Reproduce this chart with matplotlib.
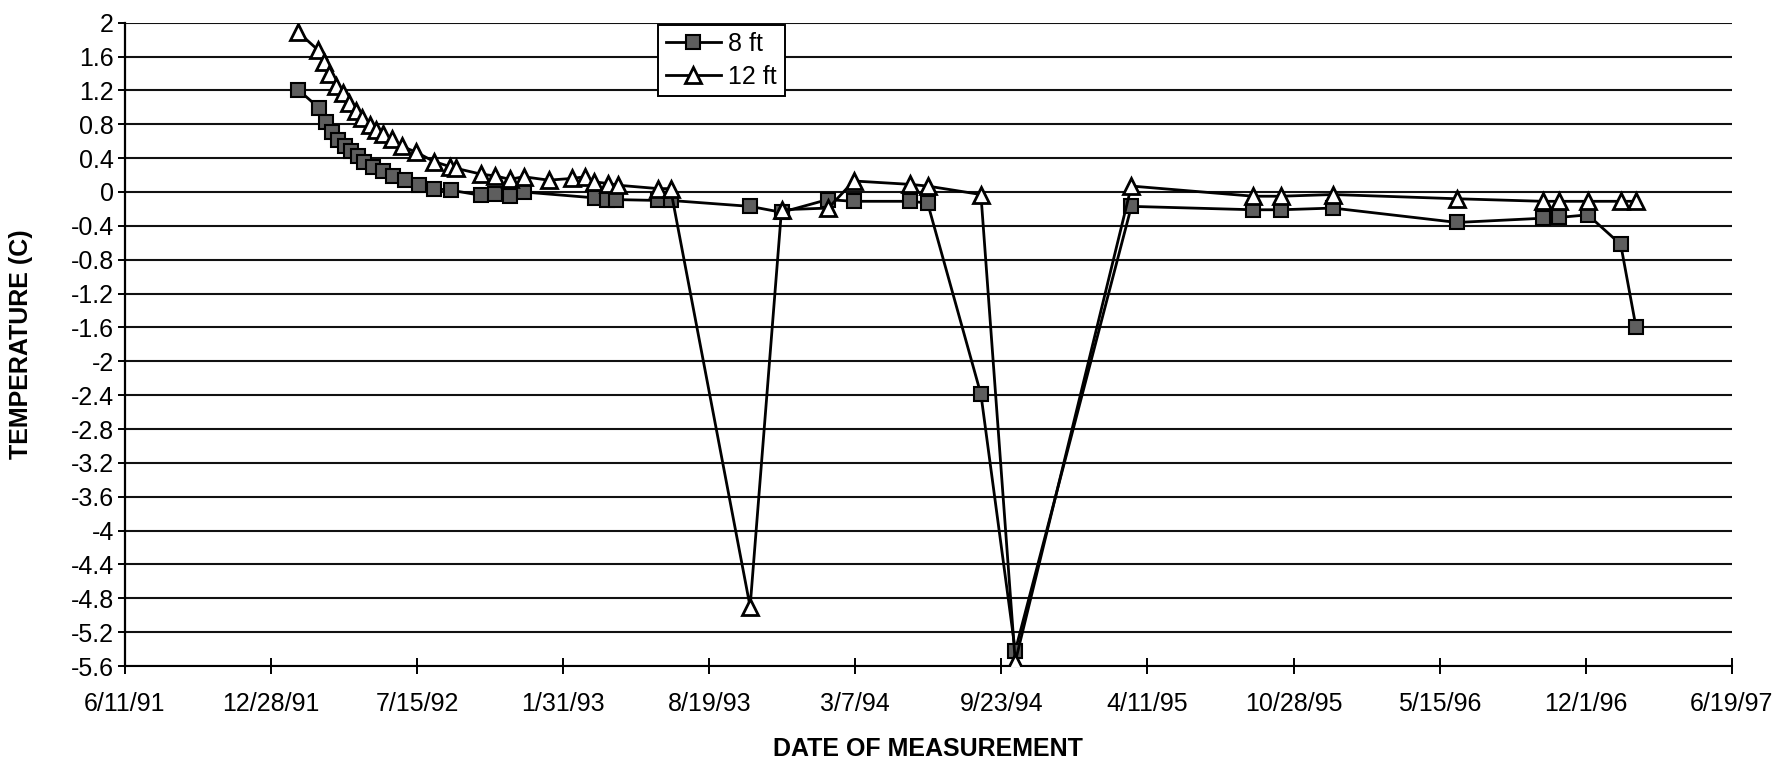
import matplotlib
matplotlib.use("Agg")
import matplotlib.pyplot as plt
import pandas as pd

plt.rcParams["font.family"] = ["Liberation Sans", "DejaVu Sans"]

# Soil temperature readings at two depths
series_labels = ["8 ft", "12 ft"]

dates_8ft = [
    "1992-02-03", "1992-03-03", "1992-03-12", "1992-03-20", "1992-03-29",
    "1992-04-07", "1992-04-16", "1992-04-25", "1992-05-04", "1992-05-16",
    "1992-05-29", "1992-06-12", "1992-06-28", "1992-07-17", "1992-08-07",
    "1992-08-31", "1992-10-11", "1992-10-30", "1992-11-19", "1992-12-08",
    "1993-03-16", "1993-04-01", "1993-04-14", "1993-06-10", "1993-06-27",
    "1993-10-14", "1993-11-26", "1994-01-28", "1994-03-05", "1994-05-21",
    "1994-06-14", "1994-08-26", "1994-10-12", "1995-03-20", "1995-09-03",
    "1995-10-11", "1995-12-21", "1996-06-08", "1996-10-03", "1996-10-26",
    "1996-12-04", "1997-01-18", "1997-02-08",
]
temp_8ft = [
    1.21, 0.99, 0.83, 0.71, 0.61,
    0.54, 0.48, 0.42, 0.36, 0.30,
    0.25, 0.19, 0.14, 0.08, 0.04,
    0.02, -0.04, -0.02, -0.05, 0.00,
    -0.07, -0.09, -0.09, -0.10, -0.10,
    -0.17, -0.24, -0.09, -0.11, -0.11,
    -0.13, -2.39, -5.42, -0.17, -0.21,
    -0.21, -0.19, -0.36, -0.31, -0.30,
    -0.27, -0.62, -1.60,
]

dates_12ft = [
    "1992-02-03", "1992-03-01", "1992-03-09", "1992-03-17", "1992-03-26",
    "1992-04-04", "1992-04-13", "1992-04-22", "1992-05-01", "1992-05-11",
    "1992-05-20", "1992-05-29", "1992-06-10", "1992-06-24", "1992-07-14",
    "1992-08-07", "1992-08-29", "1992-09-06", "1992-10-11", "1992-10-30",
    "1992-11-19", "1992-12-08", "1993-01-11", "1993-02-12", "1993-03-02",
    "1993-03-14", "1993-04-03", "1993-04-16", "1993-06-10", "1993-06-27",
    "1993-10-14", "1993-11-26", "1994-01-29", "1994-03-05", "1994-05-21",
    "1994-06-14", "1994-08-26", "1994-10-12", "1995-03-20", "1995-09-03",
    "1995-10-11", "1995-12-21", "1996-06-08", "1996-10-03", "1996-10-26",
    "1996-12-04", "1997-01-18", "1997-02-08",
]
temp_12ft = [
    1.89, 1.68, 1.53, 1.39, 1.25,
    1.17, 1.05, 0.96, 0.87, 0.79,
    0.73, 0.69, 0.63, 0.54, 0.47,
    0.36, 0.30, 0.28, 0.21, 0.19,
    0.15, 0.18, 0.14, 0.16, 0.18,
    0.12, 0.10, 0.08, 0.04, 0.04,
    -4.90, -0.21, -0.19, 0.13, 0.09,
    0.07, -0.03, -5.55, 0.07, -0.05,
    -0.05, -0.03, -0.08, -0.11, -0.11,
    -0.11, -0.11, -0.11,
]

x_tick_labels = [
    "6/11/91", "12/28/91", "7/15/92", "1/31/93", "8/19/93", "3/7/94",
    "9/23/94", "4/11/95", "10/28/95", "5/15/96", "12/1/96", "6/19/97",
]
y_ticks = [2.0, 1.6, 1.2, 0.8, 0.4, 0.0, -0.4, -0.8, -1.2, -1.6, -2.0,
           -2.4, -2.8, -3.2, -3.6, -4.0, -4.4, -4.8, -5.2, -5.6]

x_ticks = pd.to_datetime(x_tick_labels, format="%m/%d/%y")


def fmt_temp(v):
    v = round(v, 1)
    return "0" if v == 0 else f"{v:g}"


fig = plt.figure(figsize=(17.82, 7.69), dpi=100)
ax = fig.add_axes([0.0701, 0.1339, 0.9017, 0.8366])

ax.plot(pd.to_datetime(dates_8ft), temp_8ft, color="black", lw=2.0,
        marker="s", markersize=10, markerfacecolor="#5e5e5e",
        markeredgecolor="black", markeredgewidth=1.5,
        label=series_labels[0], zorder=3)
ax.plot(pd.to_datetime(dates_12ft), temp_12ft, color="black", lw=2.0,
        marker="^", markersize=11, markerfacecolor="white",
        markeredgecolor="black", markeredgewidth=2.0,
        label=series_labels[1], zorder=4)

ax.set_xlim(x_ticks[0], x_ticks[-1])
ax.set_ylim(min(y_ticks), max(y_ticks))

ax.set_xticks(x_ticks)
ax.set_xticklabels(x_tick_labels)
ax.set_yticks(y_ticks)
ax.set_yticklabels([fmt_temp(v) for v in y_ticks])

ax.grid(axis="y", color="#111111", lw=1.5)
ax.grid(axis="x", visible=False)
ax.set_axisbelow(True)

for side in ("top", "right"):
    ax.spines[side].set_visible(False)
ax.spines["left"].set_linewidth(1.6)
ax.spines["bottom"].set_linewidth(1.5)

ax.tick_params(axis="x", direction="inout", length=12, width=1.4,
               labelsize=18, pad=13)
ax.tick_params(axis="y", direction="out", length=5, width=1.4,
               labelsize=18, pad=3)

ax.set_xlabel("DATE OF MEASUREMENT", fontsize=18, fontweight="bold")
ax.xaxis.set_label_coords(0.5, -0.11)
ax.xaxis.label.set_va("top")
ax.set_ylabel("TEMPERATURE (C)", fontsize=18, fontweight="bold")
ax.yaxis.set_label_coords(-0.057, 0.5)

leg = ax.legend(loc="upper left", bbox_to_anchor=(0.332, 0.997),
                fontsize=18, frameon=True, fancybox=False, shadow=False,
                handlelength=2.2, handletextpad=0.3, borderpad=0.3,
                labelspacing=0.35, borderaxespad=0)
leg.get_frame().set_edgecolor("black")
leg.get_frame().set_linewidth(1.4)
leg.get_frame().set_alpha(1)

fig.savefig("out.png", dpi=100, facecolor="white")
